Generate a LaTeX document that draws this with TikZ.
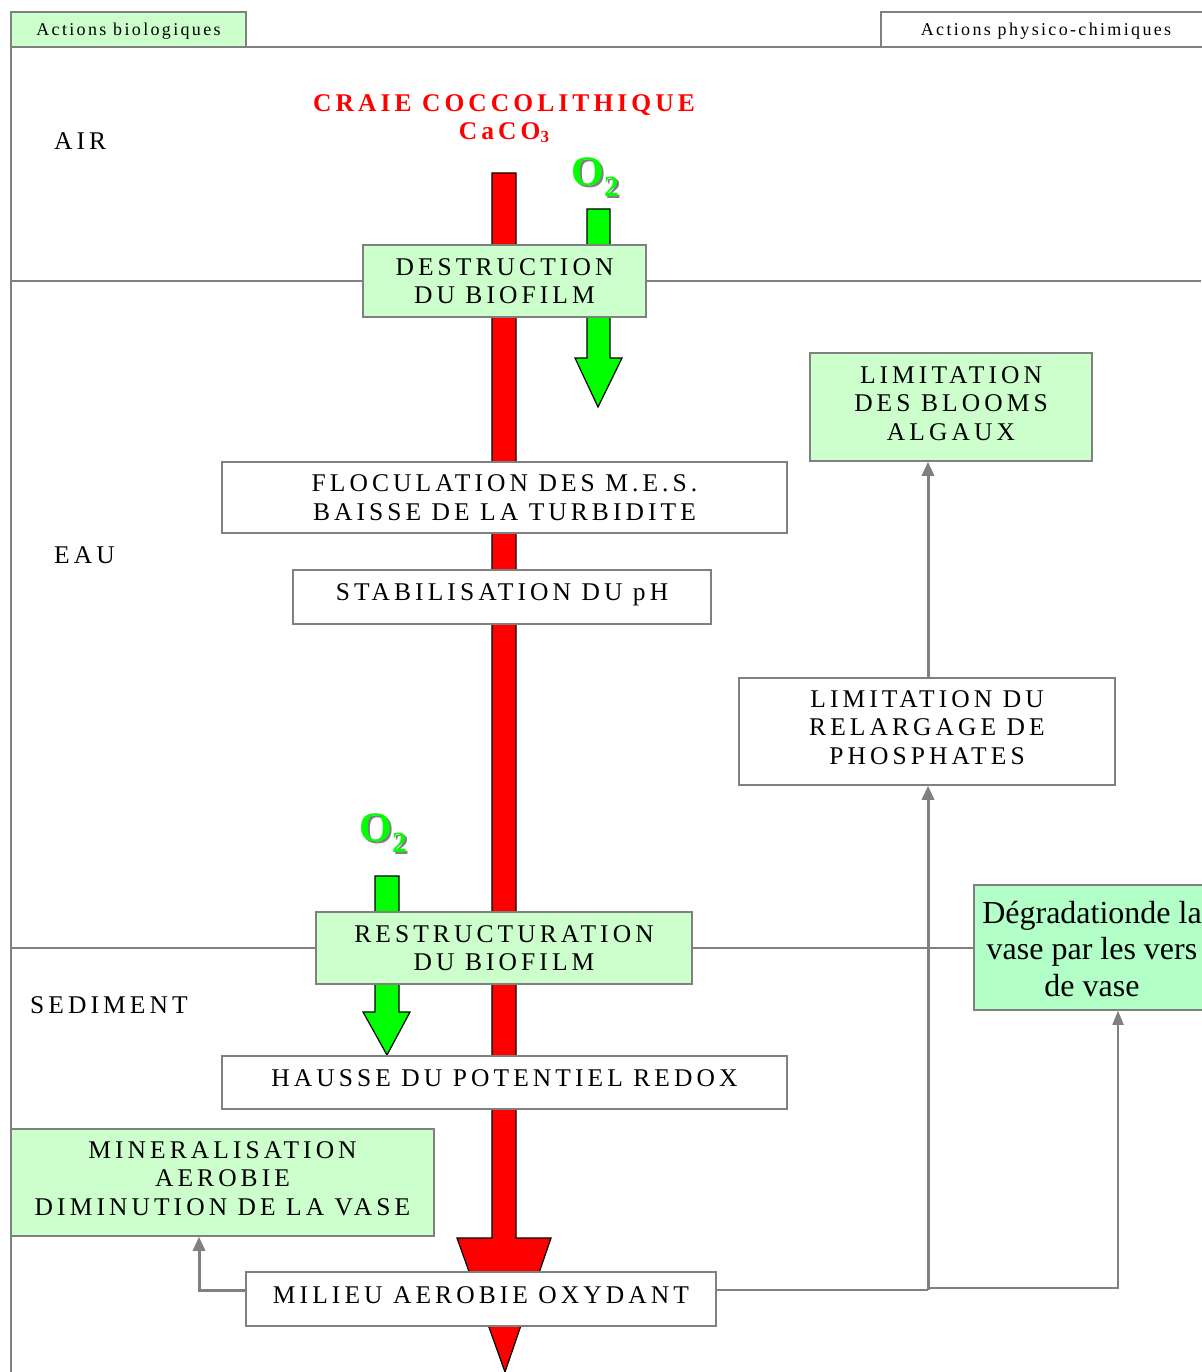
\documentclass[tikz,border=0pt]{standalone}
\usepackage{fontspec}
\setmainfont{Liberation Serif}
\newfontfamily\spaced{Liberation Serif}[LetterSpace=16]
\newfontfamily\spacedtab{Liberation Serif}[LetterSpace=13]
\usetikzlibrary{arrows.meta}
\definecolor{lgreen}{HTML}{CCFFCC}
\definecolor{mgreen}{HTML}{B3FFC8}
\definecolor{gline}{HTML}{808080}
\definecolor{agreen}{HTML}{00FF00}
\definecolor{ared}{HTML}{FF0000}
\begin{document}
\begin{tikzpicture}[x=1pt,y=-1pt,
  box/.style={draw=gline, line width=1.5pt, fill=white, inner sep=0pt},
  gbox/.style={box, fill=lgreen},
  txt/.style={inner sep=0pt, align=center, font=\spaced\fontsize{25.5}{28.5}\selectfont},
  zone/.style={anchor=west, inner sep=0pt, font=\spaced\fontsize{25.5}{28}\selectfont},
  tab/.style={draw=gline, line width=1.5pt, inner sep=0pt, text height=15pt, font=\spacedtab\fontsize{18}{20}\selectfont},
  oxy/.style={inner sep=0pt, font=\bfseries\fontsize{42}{42}\selectfont, text=agreen},
  oxyshadow/.style={oxy, text=gray},
  sep/.style={draw=gline, line width=1.5pt},
  conn/.style={draw=gline, line width=3pt, -{Triangle[width=12pt,length=14pt]}},
  connthin/.style={draw=gline, line width=1.8pt, -{Triangle[width=11pt,length=14pt]}},
  bigarrow/.style={draw=black, line width=1.2pt}
]
\useasboundingbox (0,0) rectangle (1201,1372);
\fill[white] (0,0) rectangle (1201,1372);

% separators
\draw[sep] (11,47) -- (1201,47);
\draw[sep] (11,47) -- (11,1372);
\draw[sep] (11,281) -- (1201,281);
\draw[sep] (11,948) -- (980,948);

% header tabs
\node[tab, fill=lgreen, minimum width=235pt, minimum height=35pt] (biol) at (128.5,29.5) {Actions biologiques};
\node[tab, fill=white, minimum width=330pt, minimum height=35pt] (phys) at (1046,29.5) {Actions physico-chimiques};

% zone labels
\node[zone] (air) at (54,141) {AIR};
\node[zone] (eau) at (54,555) {EAU};
\node[zone] (sed) at (30,1005) {SEDIMENT};

% title
\node[inner sep=0pt, align=center, text=ared, font=\spaced\bfseries\fontsize{25.5}{28}\selectfont] (craie) at (504,119)
  {CRAIE COCCOLITHIQUE\\CaCO{\fontsize{17}{17}\selectfont\raisebox{-3pt}{3}}};

% red arrow
\draw[bigarrow, fill=ared] (492,173) -- (516,173) -- (516,1238) -- (551,1238) -- (505,1372)
  -- (457,1238) -- (492,1238) -- cycle;

% green arrows
\draw[bigarrow, fill=agreen] (587,209) -- (610,209) -- (610,358) -- (622,358) -- (598,407)
  -- (575,358) -- (587,358) -- cycle;
\draw[bigarrow, fill=agreen] (375,876) -- (399,876) -- (399,1012) -- (410,1012) -- (387,1055)
  -- (363,1012) -- (375,1012) -- cycle;

% O2 labels
\node[oxyshadow] (o2as) at (597.5,179) {O\textsubscript{2}};
\node[oxy] (o2a) at (595.5,177) {O\textsubscript{2}};
\node[oxyshadow] (o2bs) at (385.5,835) {O\textsubscript{2}};
\node[oxy] (o2b) at (383.5,833) {O\textsubscript{2}};

% boxes (frame) and their texts
\node[gbox, minimum width=283pt, minimum height=72pt] (destr) at (504.5,281) {};
\node[txt] (destr-t) at (destr.center) {DESTRUCTION\\DU BIOFILM};
\node[box, minimum width=565pt, minimum height=71pt] (floc) at (504.5,497.5) {};
\node[txt] (floc-t) at (floc.center) {FLOCULATION DES M.E.S.\\BAISSE DE LA TURBIDITE};
\node[box, minimum width=418pt, minimum height=54pt] (stab) at (502,597) {};
\node[txt, yshift=2pt] (stab-t) at (stab.center) {STABILISATION DU pH};
\node[gbox, minimum width=376pt, minimum height=72pt] (restr) at (504,948) {};
\node[txt] (restr-t) at (restr.center) {RESTRUCTURATION\\DU BIOFILM};
\node[box, minimum width=565pt, minimum height=53pt] (hausse) at (504.5,1082.5) {};
\node[txt, yshift=4pt] (hausse-t) at (hausse.center) {HAUSSE DU POTENTIEL REDOX};
\node[gbox, minimum width=423pt, minimum height=107pt] (miner) at (222.5,1182.5) {};
\node[txt, yshift=4pt] (miner-t) at (miner.center) {MINERALISATION\\AEROBIE\\DIMINUTION DE LA VASE};
\node[box, minimum width=470pt, minimum height=54pt] (milieu) at (481,1299) {};
\node[txt, yshift=4pt] (milieu-t) at (milieu.center) {MILIEU AEROBIE OXYDANT};
\node[gbox, minimum width=282pt, minimum height=108pt] (blooms) at (951,407) {};
\node[txt, yshift=3.5pt] (blooms-t) at (blooms.center) {LIMITATION\\DES BLOOMS\\ALGAUX};
\node[box, minimum width=376pt, minimum height=107pt] (phos) at (927,731.5) {};
\node[txt, yshift=4pt] (phos-t) at (phos.center) {LIMITATION DU\\RELARGAGE DE\\PHOSPHATES};
\node[box, fill=mgreen, minimum width=236pt, minimum height=125pt] (degr) at (1092,947.5) {};
\node[inner sep=0pt, align=center, font=\fontsize{32}{36.5}\selectfont, yshift=-1.5pt] (degr-t) at (degr.center)
  {Dégradationde la\\vase par les vers\\de vase};

% connectors
\coordinate (jr) at (928,1290);
\coordinate (jl) at (199,1290);
\coordinate (jd) at (1118,1288);
\draw[sep, line width=1.8pt] (milieu.east |- jr) -- (jr);
\draw[conn] (jr) -- (phos.south -| jr);
\draw[conn] (phos.north -| jr) -- (blooms.south -| jr);
\draw[connthin] (928,1288) -- (jd) -- (degr.south -| jd);
\draw[conn] (milieu.west |- jl) -- (jl) -- (miner.south -| jl);
\end{tikzpicture}
\end{document}
